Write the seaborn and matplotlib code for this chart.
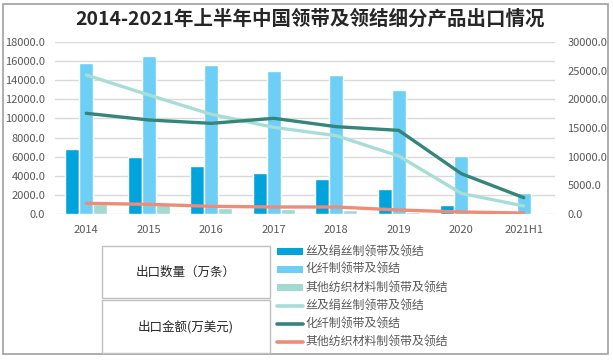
import matplotlib
matplotlib.use("Agg")
import matplotlib.pyplot as plt
import seaborn as sns
import pandas as pd
from matplotlib.patches import Rectangle
from matplotlib.lines import Line2D

years = ["2014", "2015", "2016", "2017", "2018", "2019", "2020", "2021H1"]

# Export quantity (10k pieces) - bars, left axis
qty_silk = [6800, 5960, 5020, 4290, 3660, 2615, 940, 310]
qty_chem = [15800, 16530, 15590, 14960, 14540, 12970, 6070, 2200]
qty_other = [1000, 1000, 660, 520, 420, 210, 30, 100]

# Export value (10k USD) - lines, right axis
val_silk = [24250, 20760, 17390, 15120, 13660, 10120, 3600, 1400]
val_chem = [17560, 16400, 15810, 16690, 15230, 14590, 7040, 2850]
val_other = [1860, 1690, 1340, 1220, 1220, 700, 350, 170]

series_names = ["丝及绢丝制领带及领结", "化纤制领带及领结", "其他纺织材料制领带及领结"]
bar_colors = ["#00A3DC", "#6DCFF6", "#A2D9D3"]
line_colors = ["#A8DDD5", "#35857B", "#EE8C77"]

sns.set_theme(style="white")
plt.rcParams["font.family"] = ["Noto Sans CJK SC", "DejaVu Sans"]

df_bar = pd.DataFrame({
    "year": years * 3,
    "value": qty_silk + qty_chem + qty_other,
    "series": sum([[s] * len(years) for s in series_names], []),
})
df_line = pd.DataFrame({
    "year": years * 3,
    "value": val_silk + val_chem + val_other,
    "series": sum([[s] * len(years) for s in series_names], []),
})

W, H = 613, 361
fig = plt.figure(figsize=(W / 100, H / 100), dpi=100)
ax = fig.add_axes([55 / W, 1 - 214 / H, 500 / W, 172 / H])

sns.barplot(data=df_bar, x="year", y="value", hue="series", hue_order=series_names,
            palette=bar_colors, width=0.67, gap=0, saturation=1, ax=ax, legend=False)
ax.set_axisbelow(True)
ax.yaxis.grid(True, color="#D9D9D9", linewidth=1)
ax.set_ylim(0, 18000)
ax.set_yticks(range(0, 18001, 2000))
ax.set_yticklabels([f"{v:.1f}" for v in range(0, 18001, 2000)])
ax.set_xlabel("")
ax.set_ylabel("")
for sp in ax.spines.values():
    sp.set_visible(False)
ax.tick_params(axis="both", length=0, colors="#595959", labelsize=8)
ax.tick_params(axis="y", pad=7)
ax.tick_params(axis="x", pad=8)

ax2 = ax.twinx()
sns.lineplot(data=df_line, x="year", y="value", hue="series", hue_order=series_names,
             palette=line_colors, linewidth=2.4, sort=False, ax=ax2, legend=False)
ax2.set_ylim(0, 30000)
ax2.set_yticks(range(0, 30001, 5000))
ax2.set_yticklabels([f"{v:.1f}" for v in range(0, 30001, 5000)])
ax2.set_ylabel("")
ax2.set_xlabel("")
for sp in ax2.spines.values():
    sp.set_visible(False)
ax2.tick_params(axis="y", length=0, colors="#595959", labelsize=8, pad=9)
ax.set_xlim(-0.5, len(years) - 0.5)

fig.text(310 / W, 1 - 19 / H, "2014-2021年上半年中国领带及领结细分产品出口情况",
         ha="center", va="center", fontsize=14, fontweight="bold", color="#262626")

# outer frame
fig.add_artist(Rectangle((3 / W, 1 - 354 / H), 605 / W, 350 / H,
                         transform=fig.transFigure, fill=False, edgecolor="#A0A0A0", linewidth=1.2))

# legend table boxes
for y0, y1, label in [(245.7, 298.3, "出口数量（万条）"), (300, 353, "出口金额(万美元)")]:
    fig.add_artist(Rectangle((101.7 / W, 1 - y1 / H), (270.3 - 101.7) / W, (y1 - y0) / H,
                             transform=fig.transFigure, fill=False, edgecolor="#BFBFBF", linewidth=1))
    fig.text(186 / W, 1 - ((y0 + y1) / 2) / H, label, ha="center", va="center",
             fontsize=9, color="#262626")

# legend entries
row_y = [251.7, 269.3, 287.7, 306, 324.3, 342.3]
labels = series_names + series_names
for i, (yy, lab) in enumerate(zip(row_y, labels)):
    if i < 3:
        fig.add_artist(Rectangle((277 / W, 1 - (yy + 3.3) / H), 26 / W, 6.6 / H,
                                 transform=fig.transFigure, facecolor=bar_colors[i],
                                 edgecolor="none"))
    else:
        fig.add_artist(Line2D([277 / W, 303 / W], [1 - yy / H, 1 - yy / H],
                              transform=fig.transFigure, color=line_colors[i - 3],
                              linewidth=2.6))
    fig.text(305 / W, 1 - yy / H, lab, ha="left", va="center", fontsize=8.6, color="#595959")

fig.savefig("out.png", dpi=100)
